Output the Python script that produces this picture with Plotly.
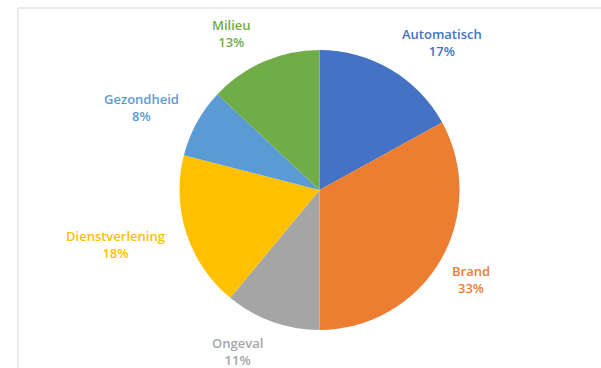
import math
import plotly.graph_objects as go

# Incident categories and their share (%)
categories = ["Automatisch", "Brand", "Ongeval", "Dienstverlening", "Gezondheid", "Milieu"]
shares = [17, 33, 11, 18, 8, 13]
colors = ["#4472C4", "#ED7D31", "#A5A5A5", "#FFC000", "#5B9BD5", "#70AD47"]

W, H = 601, 368
cx, cy, r = 319.5, 190, 140  # pie centre and radius in pixels

fig = go.Figure(
    go.Pie(
        labels=categories,
        values=shares,
        sort=False,
        direction="clockwise",
        rotation=0,
        marker=dict(colors=colors, line=dict(width=0)),
        textinfo="none",
        hoverinfo="label+percent",
        domain=dict(x=[(cx - r) / W, (cx + r) / W], y=[1 - (cy + r) / H, 1 - (cy - r) / H]),
        showlegend=False,
    )
)

# Outside labels: placed along each slice's mid-angle, pushed out past the rim
label_shift = {  # (extra angle in degrees, distance from centre in px)
    "Automatisch": (9, 192),
    "Brand": (0, 176),
    "Ongeval": (7, 181),
    "Dienstverlening": (3, 211),
    "Gezondheid": (-4, 196),
    "Milieu": (-6, 180),
}
total = sum(shares)
cum = 0
annotations = []
for name, val, col in zip(categories, shares, colors):
    mid = (cum + val / 2) / total * 360
    cum += val
    da, dist = label_shift[name]
    ang = math.radians(mid + da)
    px = cx + dist * math.sin(ang)
    py = cy - dist * math.cos(ang)
    annotations.append(
        dict(
            x=px / W,
            y=1 - py / H,
            xref="paper",
            yref="paper",
            text=f"{name}<br>{round(val / total * 100)}%",
            showarrow=False,
            font=dict(family="Open Sans", size=13, color=col, weight=600),
            align="center",
            xanchor="center",
            yanchor="middle",
        )
    )

fig.update_layout(
    width=W,
    height=H,
    margin=dict(l=0, r=0, t=0, b=0),
    paper_bgcolor="white",
    plot_bgcolor="white",
    annotations=annotations,
    shapes=[
        dict(
            type="rect",
            xref="paper",
            yref="paper",
            x0=18 / W,
            x1=1.05,
            y0=-0.05,
            y1=1 - 8 / H,
            line=dict(color="#d9d9d9", width=1),
            fillcolor="rgba(0,0,0,0)",
        )
    ],
)

fig.write_html("out.html")
